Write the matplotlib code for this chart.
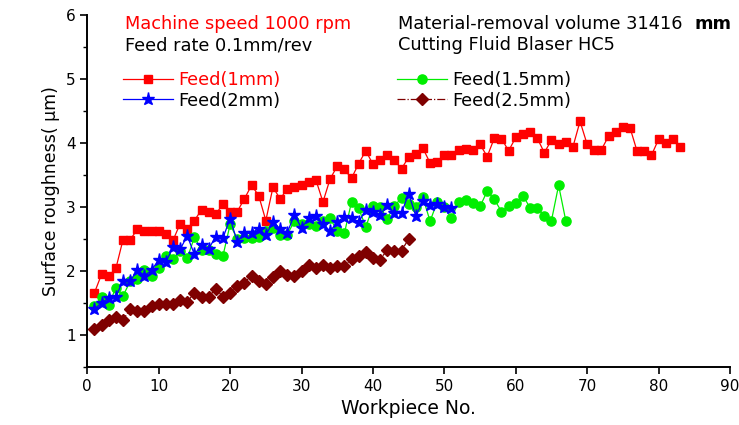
import matplotlib
matplotlib.use("Agg")
import matplotlib.pyplot as plt
from matplotlib.ticker import MultipleLocator

# 表面粗糙度資料
red_vals = [1.66, 1.95, 1.92, 2.04, 2.49, 2.49, 2.65, 2.63, 2.63, 2.62,
            2.58, 2.48, 2.74, 2.66, 2.79, 2.96, 2.93, 2.89, 3.05, 2.93,
            2.93, 3.13, 3.34, 3.18, 2.79, 3.31, 3.13, 3.28, 3.31, 3.34,
            3.39, 3.43, 3.08, 3.44, 3.64, 3.59, 3.45, 3.68, 3.88, 3.67,
            3.73, 3.81, 3.73, 3.60, 3.78, 3.83, 3.92, 3.69, 3.70, 3.81,
            3.81, 3.89, 3.91, 3.89, 3.98, 3.79, 4.08, 4.07, 3.88, 4.09,
            4.15, 4.17, 4.08, 3.85, 4.05, 3.98, 4.02, 3.94, 4.34, 3.98,
            3.90, 3.90, 4.11, 4.18, 4.25, 4.24, 3.87, 3.87, 3.81, 4.06,
            4.00, 4.06, 3.94]
green_vals = [1.45, 1.60, 1.47, 1.74, 1.61, 1.84, 1.88, 2.01, 1.92, 2.05,
              2.24, 2.19, 2.31, 2.20, 2.53, 2.33, 2.33, 2.27, 2.24, 2.73,
              2.50, 2.52, 2.52, 2.53, 2.62, 2.67, 2.57, 2.57, 2.78, 2.73,
              2.73, 2.70, 2.78, 2.83, 2.62, 2.59, 3.08, 2.98, 2.69, 3.01,
              3.00, 2.82, 3.02, 3.14, 3.05, 3.00, 3.15, 2.78, 3.08, 3.00,
              2.83, 3.08, 3.11, 3.07, 3.01, 3.25, 3.12, 2.93, 3.02, 3.07,
              3.18, 2.99, 2.99, 2.86, 2.79, 3.34, 2.79]
blue_vals = [1.41, 1.50, 1.58, 1.60, 1.85, 1.84, 2.02, 1.93, 2.01, 2.18,
             2.14, 2.37, 2.34, 2.55, 2.26, 2.41, 2.35, 2.54, 2.52, 2.82,
             2.46, 2.60, 2.60, 2.66, 2.56, 2.77, 2.66, 2.60, 2.88, 2.67,
             2.83, 2.86, 2.74, 2.62, 2.77, 2.85, 2.83, 2.77, 2.95, 2.93,
             2.87, 3.04, 2.90, 2.91, 3.21, 2.86, 3.09, 3.04, 3.05, 3.00,
             2.98]
brown_vals = [1.09, 1.16, 1.24, 1.28, 1.24, 1.40, 1.37, 1.38, 1.45, 1.49,
              1.49, 1.49, 1.54, 1.52, 1.66, 1.60, 1.60, 1.72, 1.60, 1.65,
              1.76, 1.82, 1.93, 1.84, 1.79, 1.90, 2.00, 1.94, 1.92, 2.00,
              2.10, 2.05, 2.10, 2.05, 2.08, 2.08, 2.19, 2.24, 2.30, 2.20,
              2.18, 2.33, 2.32, 2.32, 2.50]

labels = ['Feed(1mm)', 'Feed(1.5mm)', 'Feed(2mm)', 'Feed(2.5mm)']
x_ticks = list(range(0, 100, 10))
y_ticks = [1, 2, 3, 4, 5, 6]

plt.rcParams['font.family'] = ['DejaVu Sans']
FS = 12.8

fig = plt.figure(figsize=(7.39, 4.25), dpi=100)
ax = fig.add_axes([87.3 / 739, 58 / 425, (730 - 87.3) / 739, (367.5 - 15.7) / 425])

def xs(vals):
    return list(range(1, len(vals) + 1))

h_red, = ax.plot(xs(red_vals), red_vals, '-', color='#ff0000', lw=0.9,
                 marker='s', ms=6.2, mec='#ff0000', mfc='#ff0000')
h_green, = ax.plot(xs(green_vals), green_vals, '-', color='#00ee00', lw=0.9,
                   marker='o', ms=6.6, mec='#00ee00', mfc='#00ee00')
h_blue, = ax.plot(xs(blue_vals), blue_vals, '-', color='#0000ff', lw=0.9,
                  marker='*', ms=9.5, mec='#0000ff', mfc='#0000ff')
h_brown, = ax.plot(xs(brown_vals), brown_vals, '-.', color='#7f0000', lw=0.9,
                   marker='D', ms=6.3, mec='#7f0000', mfc='#7f0000')

ax.set_xlim(0, 90)
ax.set_ylim(0.5, 6)
ax.set_xticks(x_ticks)
ax.set_yticks(y_ticks)
ax.yaxis.set_minor_locator(MultipleLocator(0.5))
ax.tick_params(axis='both', which='major', direction='out', length=5, width=1.2,
               labelsize=11)
ax.tick_params(axis='y', which='minor', direction='out', length=3, width=1.0)
for s in ['top', 'right']:
    ax.spines[s].set_visible(False)
for s in ['left', 'bottom']:
    ax.spines[s].set_linewidth(1.4)

ax.set_xlabel('Workpiece No.', fontsize=13.5)
ax.set_ylabel('Surface roughness( μm)', fontsize=12.5)

# 說明文字
fig.text(125 / 739, 1 - 24 / 425, 'Machine speed 1000 rpm', color='#ff0000',
         fontsize=FS, va='center', ha='left')
fig.text(125 / 739, 1 - 45 / 425, 'Feed rate 0.1mm/rev', color='black',
         fontsize=FS, va='center', ha='left')
fig.text(398 / 739, 1 - 24 / 425, 'Material-removal volume 31416', color='black',
         fontsize=FS, va='center', ha='left')
fig.text(695 / 739, 1 - 24 / 425, 'mm', color='black', fontweight='bold',
         fontsize=FS, va='center', ha='left')
fig.text(398 / 739, 1 - 45 / 425, 'Cutting Fluid Blaser HC5', color='black',
         fontsize=FS, va='center', ha='left')

# 圖例（兩欄）
leg_kw = dict(loc='upper left', bbox_transform=fig.transFigure, frameon=False,
              fontsize=FS, handlelength=2.8, handletextpad=0.3,
              labelspacing=0.15, borderpad=0, borderaxespad=0)
leg1 = ax.legend([h_red, h_blue], [labels[0], labels[2]],
                 bbox_to_anchor=(123 / 739, 1 - 71 / 425),
                 labelcolor=['#ff0000', 'black'], **leg_kw)
ax.add_artist(leg1)
ax.legend([h_green, h_brown], [labels[1], labels[3]],
          bbox_to_anchor=(397 / 739, 1 - 71 / 425), **leg_kw)

fig.savefig('out.png', dpi=100)
